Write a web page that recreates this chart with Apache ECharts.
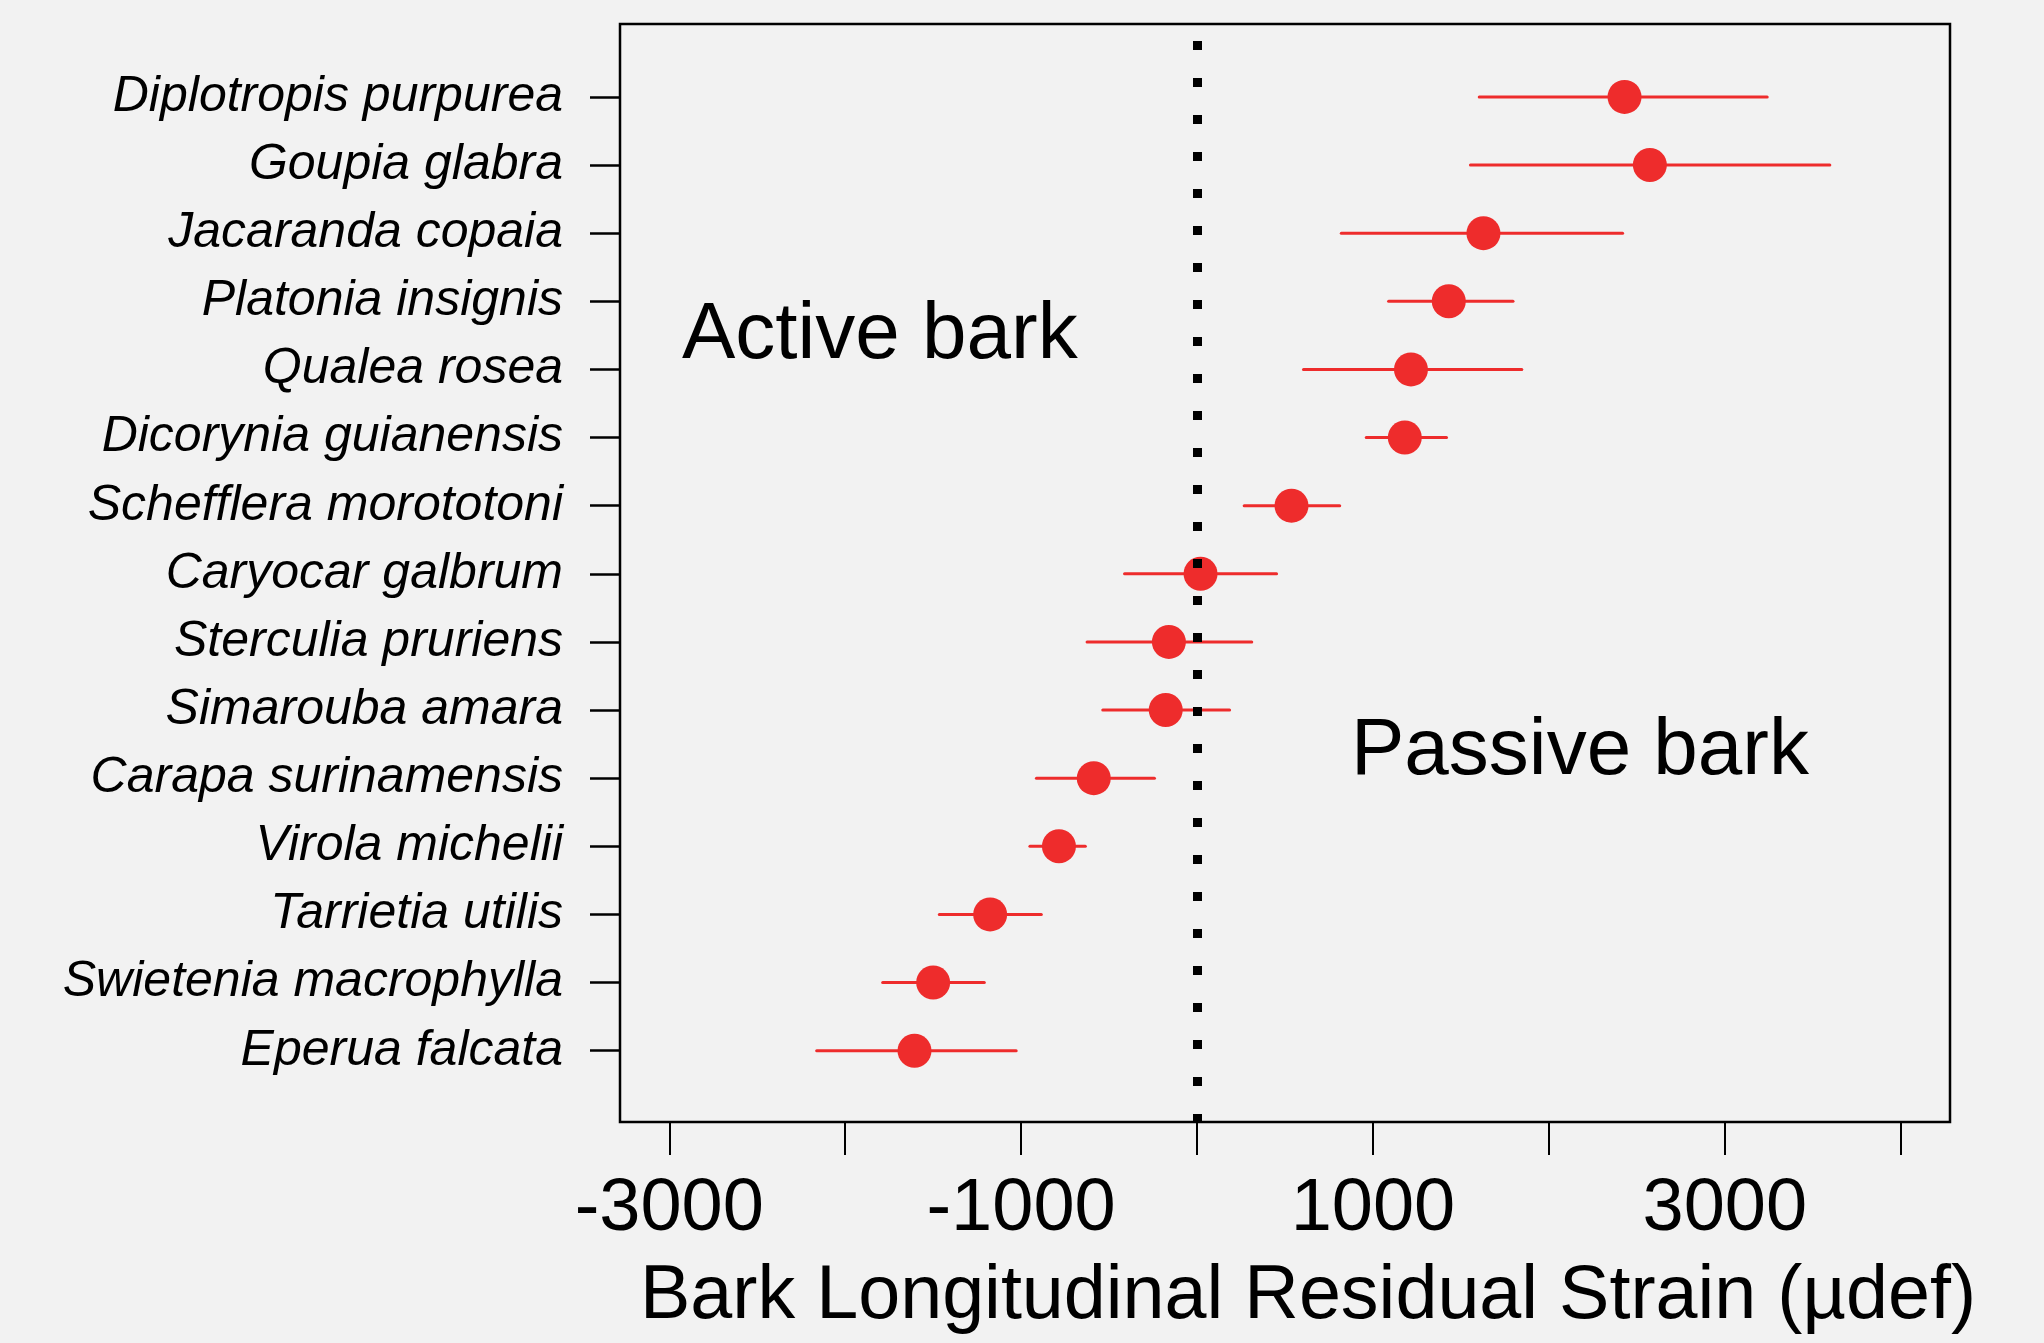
<!DOCTYPE html>
<html>
<head>
<meta charset="utf-8">
<title>Bark longitudinal residual strain</title>
<script src="https://cdn.jsdelivr.net/npm/echarts@6/dist/echarts.min.js"></script>
<style>
  html, body { margin: 0; padding: 0; background: #f2f2f2; }
  #chart { width: 2044px; height: 1343px; }
</style>
</head>
<body>
<div id="chart"></div>
<script>
// species, top to bottom
const species = [
  'Diplotropis purpurea', 'Goupia glabra', 'Jacaranda copaia', 'Platonia insignis',
  'Qualea rosea', 'Dicorynia guianensis', 'Schefflera morototoni', 'Caryocar galbrum',
  'Sterculia pruriens', 'Simarouba amara', 'Carapa surinamensis', 'Virola michelii',
  'Tarrietia utilis', 'Swietenia macrophylla', 'Eperua falcata'
]
const means = [2430, 2574, 1628, 1431, 1216, 1181, 537, 20, -160, -178, -587, -785, -1176, -1500, -1606]
const lower = [1604, 1554, 820, 1089, 605, 962, 268, -412, -625, -536, -913, -950, -1465, -1787, -2162]
const upper = [3241, 3597, 2419, 1796, 1846, 1418, 811, 452, 311, 185, -242, -635, -885, -1209, -1028]

const xTicks = [-3000, -2000, -1000, 0, 1000, 2000, 3000, 4000]
const xLabels = [-3000, -1000, 1000, 3000]

const RED = '#ee2c2c'
const FONT = '"Liberation Sans", Arial, sans-serif'

const n = species.length
// y position: top row = n, bottom row = 1
const yPos = species.map((s, i) => n - i)

const chart = echarts.init(document.getElementById('chart'))

const option = {
  backgroundColor: '#f2f2f2',
  animation: false,
  grid: {
    left: 620,
    right: 94,
    top: 24,
    bottom: 221,
    show: true,
    borderColor: '#000',
    borderWidth: 2.5,
    backgroundColor: 'transparent',
  },
  xAxis: {
    type: 'value',
    min: -3280,
    max: 4280,
    axisLine: { show: false, onZero: false },
    splitLine: { show: false },
    axisTick: {
      show: true,
      length: 33,
      customValues: xTicks,
      lineStyle: { color: '#000', width: 2 },
    },
    axisLabel: {
      customValues: xLabels,
      margin: 51,
      color: '#000',
      fontFamily: FONT,
      fontSize: 74,
      formatter: (v) => String(v),
    },
  },
  yAxis: {
    type: 'value',
    min: -0.047,
    max: 16.07,
    axisLine: { show: false, onZero: false },
    splitLine: { show: false },
    axisTick: {
      show: true,
      length: 30,
      customValues: yPos,
      lineStyle: { color: '#000', width: 2.5 },
    },
    axisLabel: {
      customValues: yPos,
      margin: 57,
      color: '#000',
      fontFamily: FONT,
      fontSize: 50,
      fontStyle: 'italic',
      formatter: (v) => species[n - Math.round(v)] || '',
    },
  },
  graphic: [
    {
      type: 'text',
      x: 682,
      y: 336,
      style: { text: 'Active bark', font: '80px ' + FONT, fill: '#000', align: 'left', verticalAlign: 'middle' },
    },
    {
      type: 'text',
      x: 1351,
      y: 752,
      style: { text: 'Passive bark', font: '80px ' + FONT, fill: '#000', align: 'left', verticalAlign: 'middle' },
    },
    {
      type: 'text',
      x: 1308,
      y: 1297,
      style: { text: 'Bark Longitudinal Residual Strain (µdef)', font: '75.5px ' + FONT, fill: '#000', align: 'center', verticalAlign: 'middle' },
    },
  ],
  series: [
    {
      // error bars
      type: 'custom',
      data: species.map((s, i) => [lower[i], upper[i], yPos[i]]),
      encode: { x: [0, 1], y: 2 },
      renderItem: (params, api) => {
        const p1 = api.coord([api.value(0), api.value(2)])
        const p2 = api.coord([api.value(1), api.value(2)])
        return {
          type: 'line',
          shape: { x1: p1[0], y1: p1[1], x2: p2[0], y2: p2[1] },
          style: { stroke: RED, lineWidth: 3, lineCap: 'round' },
        }
      },
      z: 2,
    },
    {
      type: 'scatter',
      data: species.map((s, i) => [means[i], yPos[i]]),
      symbol: 'circle',
      symbolSize: 34,
      itemStyle: { color: RED, opacity: 1 },
      z: 3,
      markLine: {
        silent: true,
        symbol: ['none', 'none'],
        label: { show: false },
        lineStyle: { color: '#000', width: 9, type: [9, 28], cap: 'butt', dashOffset: 1 },
        data: [{ xAxis: 0 }],
      },
    },
  ],
}

chart.setOption(option)
</script>
</body>
</html>
